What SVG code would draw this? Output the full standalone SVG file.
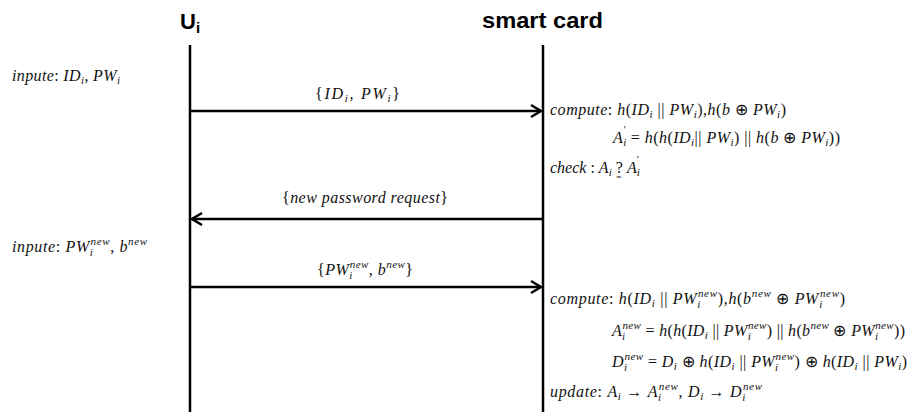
<svg xmlns="http://www.w3.org/2000/svg" width="920" height="412" viewBox="0 0 920 412">
  <style>
    .hdr { font-family: "Liberation Sans", Arial, sans-serif; font-weight: bold; fill: #000; }
    .m { font-family: "Liberation Serif", "Times New Roman", serif; font-size: 16px; font-style: italic; fill: #111; }
    .u { font-style: normal; }
    .s { font-size: 11px; }
    .life { stroke: #000; stroke-width: 2.5; fill: none; }
    .msg { stroke: #000; stroke-width: 2.5; fill: none; marker-end: url(#chev); }
  </style>
  <defs>
    <marker id="chev" markerUnits="userSpaceOnUse" markerWidth="16" markerHeight="16" refX="13" refY="8" orient="auto">
      <path d="M3,2 L13,8 L3,14" fill="none" stroke="#000" stroke-width="2.5" stroke-linejoin="miter"/>
    </marker>
  </defs>
  <rect width="920" height="412" fill="#fff"/>

  <!-- participants -->
  <g id="user">
    <text class="hdr" x="180" y="29" font-size="22">U<tspan font-size="15" dy="4">i</tspan></text>
    <line class="life" x1="190" y1="45" x2="190" y2="412"/>
  </g>
  <g id="smartcard">
    <text class="hdr" x="482" y="28" font-size="22" textLength="121" lengthAdjust="spacingAndGlyphs">smart card</text>
    <line class="life" x1="543" y1="45" x2="543" y2="412"/>
  </g>

  <!-- messages -->
  <g id="connectors">
    <line class="msg" x1="190" y1="111" x2="541" y2="111"/>
    <line class="msg" x1="543" y1="219" x2="192" y2="219"/>
    <line class="msg" x1="190" y1="287" x2="541" y2="287"/>
  </g>

  <g id="msg-labels">
    <text class="m" x="315" y="99" textLength="85" lengthAdjust="spacing"><tspan class="u">{</tspan>ID<tspan class="s" dy="3">i</tspan><tspan class="u" dy="-3">, </tspan>PW<tspan class="s" dy="3">i</tspan><tspan class="u" dy="-3">}</tspan></text>
    <text class="m" x="282" y="203" textLength="166" lengthAdjust="spacing"><tspan class="u">{</tspan>new password request<tspan class="u">}</tspan></text>
    <text class="m" x="317" y="275" textLength="96" lengthAdjust="spacing"><tspan class="u">{</tspan>PW<tspan class="s" dy="4">i</tspan><tspan class="s" dx="-3" dy="-11">new</tspan><tspan class="u" dy="7">, </tspan>b<tspan class="s" dy="-7">new</tspan><tspan class="u" dy="7">}</tspan></text>
  </g>

  <!-- user side notes -->
  <g id="user-notes">
    <text class="m" x="12" y="81" textLength="108" lengthAdjust="spacing">inpute<tspan class="u">: </tspan>ID<tspan class="s" dy="3">i</tspan><tspan class="u" dy="-3">, </tspan>PW<tspan class="s" dy="3">i</tspan></text>
    <text class="m" x="12" y="252" textLength="135" lengthAdjust="spacing">inpute<tspan class="u">: </tspan>PW<tspan class="s" dy="4">i</tspan><tspan class="s" dx="-3" dy="-11">new</tspan><tspan class="u" dy="7">, </tspan>b<tspan class="s" dy="-7">new</tspan></text>
  </g>

  <!-- smart card side notes -->
  <g id="card-notes">
    <text class="m" x="550" y="115" textLength="236" lengthAdjust="spacing">compute<tspan class="u">: </tspan>h<tspan class="u">(</tspan>ID<tspan class="s" dy="3">i</tspan><tspan class="u" dy="-3"> || </tspan>PW<tspan class="s" dy="3">i</tspan><tspan class="u" dy="-3">),</tspan>h<tspan class="u">(</tspan>b<tspan class="u"> ⊕ </tspan>PW<tspan class="s" dy="3">i</tspan><tspan class="u" dy="-3">)</tspan></text>
    <text class="m" x="613" y="143" textLength="227" lengthAdjust="spacing">A<tspan class="s" dy="3">i</tspan><tspan class="s u" dx="-3" dy="-13">'</tspan><tspan class="u" dy="10"> = </tspan>h<tspan class="u">(</tspan>h<tspan class="u">(</tspan>ID<tspan class="s" dy="3">i</tspan><tspan class="u" dy="-3">|| </tspan>PW<tspan class="s" dy="3">i</tspan><tspan class="u" dy="-3">) || </tspan>h<tspan class="u">(</tspan>b<tspan class="u"> ⊕ </tspan>PW<tspan class="s" dy="3">i</tspan><tspan class="u" dy="-3">))</tspan></text>
    <!-- "?" with a small "=" set beneath it (questioned equality) -->
    <text class="m" x="550" y="173">check <tspan class="u">: </tspan>A<tspan class="s" dy="3">i</tspan><tspan class="u" dy="-3"> ?</tspan><tspan class="u" font-size="9" dx="-6.5" dy="7">=</tspan><tspan class="u" dx="1.5" dy="-7"> </tspan>A<tspan class="s" dy="3">i</tspan><tspan class="s u" dx="-3" dy="-13">'</tspan></text>

    <text class="m" x="550" y="304" textLength="295" lengthAdjust="spacing">compute<tspan class="u">: </tspan>h<tspan class="u">(</tspan>ID<tspan class="s" dy="3">i</tspan><tspan class="u" dy="-3"> || </tspan>PW<tspan class="s" dy="4">i</tspan><tspan class="s" dx="-3" dy="-11">new</tspan><tspan class="u" dy="7">),</tspan>h<tspan class="u">(</tspan>b<tspan class="s" dy="-7">new</tspan><tspan class="u" dy="7"> ⊕ </tspan>PW<tspan class="s" dy="4">i</tspan><tspan class="s" dx="-3" dy="-11">new</tspan><tspan class="u" dy="7">)</tspan></text>
    <text class="m" x="612" y="336" textLength="293" lengthAdjust="spacing">A<tspan class="s" dy="4">i</tspan><tspan class="s" dx="-3" dy="-11">new</tspan><tspan class="u" dy="7"> = </tspan>h<tspan class="u">(</tspan>h<tspan class="u">(</tspan>ID<tspan class="s" dy="3">i</tspan><tspan class="u" dy="-3"> || </tspan>PW<tspan class="s" dy="4">i</tspan><tspan class="s" dx="-3" dy="-11">new</tspan><tspan class="u" dy="7">) || </tspan>h<tspan class="u">(</tspan>b<tspan class="s" dy="-7">new</tspan><tspan class="u" dy="7"> ⊕ </tspan>PW<tspan class="s" dy="4">i</tspan><tspan class="s" dx="-3" dy="-11">new</tspan><tspan class="u" dy="7">))</tspan></text>
    <text class="m" x="612" y="367" textLength="295" lengthAdjust="spacing">D<tspan class="s" dy="4">i</tspan><tspan class="s" dx="-3" dy="-11">new</tspan><tspan class="u" dy="7"> = </tspan>D<tspan class="s" dy="3">i</tspan><tspan class="u" dy="-3"> ⊕ </tspan>h<tspan class="u">(</tspan>ID<tspan class="s" dy="3">i</tspan><tspan class="u" dy="-3"> || </tspan>PW<tspan class="s" dy="4">i</tspan><tspan class="s" dx="-3" dy="-11">new</tspan><tspan class="u" dy="7">) ⊕ </tspan>h<tspan class="u">(</tspan>ID<tspan class="s" dy="3">i</tspan><tspan class="u" dy="-3"> || </tspan>PW<tspan class="s" dy="3">i</tspan><tspan class="u" dy="-3">)</tspan></text>
    <text class="m" x="550" y="397" textLength="212" lengthAdjust="spacing">update<tspan class="u">: </tspan>A<tspan class="s" dy="3">i</tspan><tspan class="u" dy="-3"> → </tspan>A<tspan class="s" dy="4">i</tspan><tspan class="s" dx="-3" dy="-11">new</tspan><tspan class="u" dy="7">, </tspan>D<tspan class="s" dy="3">i</tspan><tspan class="u" dy="-3"> → </tspan>D<tspan class="s" dy="4">i</tspan><tspan class="s" dx="-3" dy="-11">new</tspan></text>
  </g>
</svg>
